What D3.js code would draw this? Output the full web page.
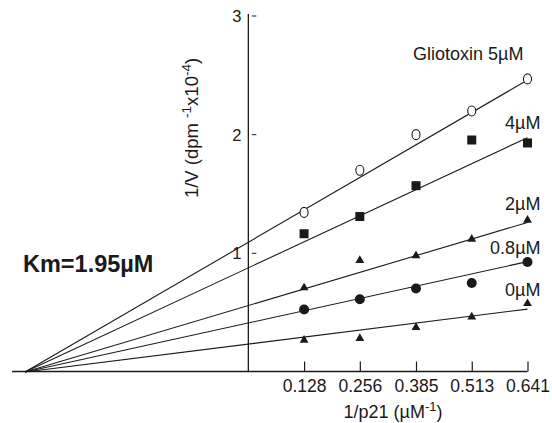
<!DOCTYPE html>
<html>
<head>
<meta charset="utf-8">
<script src="https://cdn.jsdelivr.net/npm/d3@7"></script>
<style>
  body { margin: 0; background: #fff; }
  svg { display: block; font-family: "Liberation Sans", Arial, sans-serif; }
</style>
</head>
<body>
<div id="chart"></div>
<script>
// Lineweaver-Burk plot data
const xValues = [0.128, 0.256, 0.385, 0.513, 0.641];
const seriesNames = ["Gliotoxin 5\u00b5M", "4\u00b5M", "2\u00b5M", "0.8\u00b5M", "0\u00b5M"];
const glio5 = [1.345, 1.70, 2.00, 2.20, 2.47];
const glio4 = [1.165, 1.31, 1.57, 1.955, 1.93];
const glio2 = [0.71, 0.94, 0.98, 1.12, 1.28];
const glio08 = [0.527, 0.613, 0.703, 0.75, 0.927];
const glio0 = [0.269, 0.283, 0.376, 0.465, 0.577];
// fitted line value at x = 0.641, all lines meet at -1/Km
const fitEnd = [2.46, 1.975, 1.26, 0.93, 0.53];
const km = 1.95;
const yTicks = [1, 2, 3];

const series = [glio5, glio4, glio2, glio08, glio0];
const markers = ["openCircle", "square", "triangle", "circle", "triangle"];
// label placement relative to the last point of each series
const labelDx = [-4, 13, 13, 13, 13];
const labelDy = [-19, -14, -10.5, -8, -8];

const svgWidth = 552;
const svgHeight = 423;

const svg = d3.select("#chart")
  .append("svg")
  .attr("width", svgWidth)
  .attr("height", svgHeight);

const xMin = -1 / km;
const x = d3.scaleLinear()
  .domain([xMin, 0.641])
  .range([25, 527.5]);

const y = d3.scaleLinear()
  .domain([0, 3])
  .range([372, 16]);

const ink = "#1a1a1a";

// x axis: ticks point up, labels below
const xAxisG = svg.append("g")
  .attr("transform", `translate(0, 371.5)`)
  .call(d3.axisBottom(x).tickValues(xValues).tickSize(-10).tickPadding(8)
    .tickFormat(d3.format(".3f")));
xAxisG.select(".domain").remove();
xAxisG.selectAll(".tick line").attr("stroke", ink).attr("stroke-width", 1.2);
xAxisG.selectAll(".tick text")
  .attr("fill", ink)
  .style("font-size", "17.5px")
  .style("font-family", "Liberation Sans, Arial, sans-serif");

svg.append("line")
  .attr("x1", 12).attr("x2", x(0.641))
  .attr("y1", 371.5).attr("y2", 371.5)
  .attr("stroke", ink).attr("stroke-width", 1.3);

// y axis with small detached ticks
const x0 = x(0);
svg.append("line")
  .attr("x1", x0).attr("x2", x0)
  .attr("y1", y(3) - 2).attr("y2", 371.5)
  .attr("stroke", ink).attr("stroke-width", 1.3);

svg.selectAll(".ytick")
  .data(yTicks)
  .enter()
  .append("line")
  .attr("x1", x0 + 3.5).attr("x2", x0 + 8)
  .attr("y1", d => y(d)).attr("y2", d => y(d))
  .attr("stroke", ink).attr("stroke-width", 1);

svg.selectAll(".ylabel")
  .data(yTicks)
  .enter()
  .append("text")
  .attr("x", x0 - 7)
  .attr("y", d => y(d) + 6)
  .attr("text-anchor", "end")
  .attr("fill", ink)
  .style("font-size", "16.5px")
  .text(d => d);

// fitted lines
series.forEach((s, i) => {
  svg.append("line")
    .attr("x1", x(xMin)).attr("y1", y(0))
    .attr("x2", x(0.641)).attr("y2", y(fitEnd[i]))
    .attr("stroke", ink)
    .attr("stroke-width", 1.1);
});

// data points
series.forEach((s, i) => {
  const pts = s.map((v, j) => ({ x: xValues[j], y: v }));
  const g = svg.append("g");
  const kind = markers[i];
  if (kind === "openCircle") {
    g.selectAll("ellipse").data(pts).enter().append("ellipse")
      .attr("cx", d => x(d.x)).attr("cy", d => y(d.y))
      .attr("rx", 4).attr("ry", 5)
      .attr("fill", "#fff").attr("stroke", ink).attr("stroke-width", 1.1);
  } else if (kind === "circle") {
    g.selectAll("circle").data(pts).enter().append("circle")
      .attr("cx", d => x(d.x)).attr("cy", d => y(d.y))
      .attr("r", 5)
      .attr("fill", ink);
  } else if (kind === "square") {
    g.selectAll("rect").data(pts).enter().append("rect")
      .attr("x", d => x(d.x) - 4.5).attr("y", d => y(d.y) - 4.5)
      .attr("width", 9).attr("height", 9)
      .attr("fill", ink);
  } else {
    g.selectAll("path").data(pts).enter().append("path")
      .attr("d", d3.symbol().type(d3.symbolTriangle).size(34))
      .attr("transform", d => `translate(${x(d.x)}, ${y(d.y)})`)
      .attr("fill", ink);
  }
  // series label
  const last = pts[pts.length - 1];
  svg.append("text")
    .attr("x", x(last.x) + labelDx[i])
    .attr("y", y(last.y) + labelDy[i])
    .attr("text-anchor", "end")
    .attr("fill", ink)
    .style("font-size", "18px")
    .text(seriesNames[i]);
});

// axis titles
const xTitle = svg.append("text")
  .attr("x", 393)
  .attr("y", 418)
  .attr("text-anchor", "middle")
  .attr("fill", ink)
  .style("font-size", "18px");
xTitle.append("tspan").text("1/p21 (\u00b5M");
xTitle.append("tspan").attr("dy", -7).style("font-size", "13px").text("-1");
xTitle.append("tspan").attr("dy", 7).text(")");

const yTitle = svg.append("text")
  .attr("transform", "translate(198, 128) rotate(-90)")
  .attr("text-anchor", "middle")
  .attr("fill", ink)
  .style("font-size", "18.5px");
yTitle.append("tspan").text("1/V (dpm ");
yTitle.append("tspan").attr("dy", -7).style("font-size", "13.5px").text("-1");
yTitle.append("tspan").attr("dy", 7).text("x10");
yTitle.append("tspan").attr("dy", -7).style("font-size", "13.5px").text("-4");
yTitle.append("tspan").attr("dy", 7).text(")");

// Km annotation
svg.append("text")
  .attr("x", 23)
  .attr("y", 272)
  .attr("fill", ink)
  .style("font-size", "23.5px")
  .style("font-weight", "bold")
  .text("Km=" + km + "\u00b5M");
</script>
</body>
</html>
